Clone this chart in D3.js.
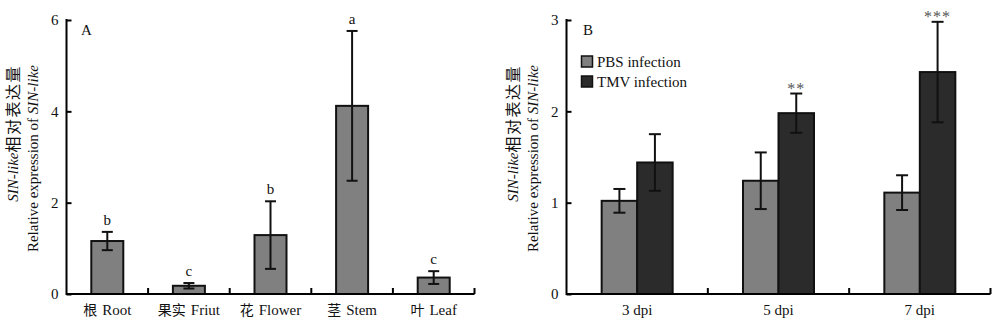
<!DOCTYPE html>
<html>
<head>
<meta charset="utf-8">
<script src="https://cdn.jsdelivr.net/npm/d3@7"></script>
<style>
  html, body { margin: 0; padding: 0; background: #fff; }
  svg { display: block; }
  text { font-family: "Liberation Serif", "Times New Roman", "Noto Sans CJK SC", serif; fill: #111; }
</style>
</head>
<body>
<svg id="chart" width="1000" height="326"></svg>
<script>
// ---- Panel A data ----
const tissueCategories = ["根 Root", "果实 Friut", "花 Flower", "茎 Stem", "叶 Leaf"];
const tissueValues = [1.16, 0.18, 1.29, 4.12, 0.36];
const tissueErrors = [0.20, 0.06, 0.74, 1.64, 0.14];
const tissueLetters = ["b", "c", "b", "a", "c"];
const tissueTicks = [0, 2, 4, 6];

// ---- Panel B data ----
const dpiCategories = ["3 dpi", "5 dpi", "7 dpi"];
const seriesNames = ["PBS infection", "TMV infection"];
const pbsValues = [1.02, 1.24, 1.11];
const pbsErrors = [0.13, 0.31, 0.19];
const tmvValues = [1.44, 1.98, 2.43];
const tmvErrors = [0.31, 0.215, 0.55];
const tmvStars = ["", "**", "***"];
const dpiTicks = [0, 1, 2, 3];

const svg = d3.select("#chart");
const seriesColors = d3.scaleOrdinal().domain(seriesNames).range(["#808080", "#2b2b2b"]);
const CJK = "'Noto Sans CJK SC', sans-serif";

function mixedText(sel, label) {
  const m = label.match(/^(\S+)\s(.+)$/);
  sel.append("tspan").style("font-family", CJK).style("font-size", "14px").text(m[1]);
  sel.append("tspan").attr("dx", 5).text(m[2]);
}

function yLabel(g, x1, x2, yEnd) {
  const t1 = g.append("text")
    .attr("transform", `translate(${x1},${yEnd}) rotate(-90)`)
    .attr("text-anchor", "end").attr("dominant-baseline", "middle")
    .style("font-size", "15px");
  t1.append("tspan").style("font-style", "italic").text("SIN-like");
  t1.append("tspan").style("font-family", CJK).style("font-size", "16px")
    .style("letter-spacing", "1.5px").text("相对表达量");
  const t2 = g.append("text")
    .attr("transform", `translate(${x2},${yEnd}) rotate(-90)`)
    .attr("text-anchor", "end").attr("dominant-baseline", "middle")
    .style("font-size", "15px");
  t2.append("tspan").text("Relative expression of ");
  t2.append("tspan").style("font-style", "italic").text("SIN-like");
}

function drawAxes(g, y, ticks, x0, x1, boundaries) {
  const ya = g.append("g").attr("transform", `translate(${x0},0)`)
    .call(d3.axisRight(y).tickValues(ticks).tickSize(5).tickFormat(d3.format("d")));
  ya.select(".domain").remove();
  ya.selectAll(".tick line").attr("stroke", "#000").attr("stroke-width", 2);
  ya.selectAll(".tick text").attr("x", -8).attr("text-anchor", "end")
    .style("font-size", "15px").style("font-family", "'Liberation Serif', serif").attr("fill", "#111");
  g.append("line").attr("x1", x0).attr("x2", x0).attr("y1", y(ticks[ticks.length - 1]) - 1).attr("y2", y(0) + 1)
    .attr("stroke", "#000").attr("stroke-width", 2);
  g.append("line").attr("x1", x0).attr("x2", x1).attr("y1", y(0)).attr("y2", y(0))
    .attr("stroke", "#000").attr("stroke-width", 2);
  g.selectAll(".btick").data(boundaries).enter().append("line")
    .attr("x1", d => d).attr("x2", d => d).attr("y1", y(0)).attr("y2", y(0) - 6)
    .attr("stroke", "#000").attr("stroke-width", 2);
}

function errorBar(g, cx, y, v, e, cap) {
  g.append("line").attr("x1", cx).attr("x2", cx).attr("y1", y(v + e)).attr("y2", y(v - e))
    .attr("stroke", "#111").attr("stroke-width", 2);
  [v + e, v - e].forEach(t => g.append("line").attr("x1", cx - cap).attr("x2", cx + cap)
    .attr("y1", y(t)).attr("y2", y(t)).attr("stroke", "#111").attr("stroke-width", 2));
}

// ---- Panel A ----
{
  const g = svg.append("g");
  const y = d3.scaleLinear().domain([0, 6]).range([294, 20]);
  const x = d3.scaleBand().domain(tissueCategories).range([66.5, 474.5]).padding(0);
  const bw = 32;
  const boundaries = tissueCategories.slice(1).map(c => x(c)).concat([x.range()[1]]);
  tissueCategories.forEach((c, i) => {
    const cx = x(c) + x.bandwidth() / 2;
    g.append("rect").attr("x", cx - bw / 2).attr("width", bw)
      .attr("y", y(tissueValues[i])).attr("height", y(0) - y(tissueValues[i]))
      .attr("fill", "#808080").attr("stroke", "#111").attr("stroke-width", 2);
    errorBar(g, cx, y, tissueValues[i], tissueErrors[i], 5.5);
    g.append("text").attr("x", cx).attr("y", y(tissueValues[i] + tissueErrors[i]) - 7)
      .attr("text-anchor", "middle").style("font-size", "15px").text(tissueLetters[i]);
    g.append("text").attr("x", cx).attr("y", 315)
      .attr("text-anchor", "middle").style("font-size", "15px").call(mixedText, c);
  });
  drawAxes(g, y, tissueTicks, 66.5, 474.5, boundaries);
  g.append("text").attr("x", 81).attr("y", 35).style("font-size", "15px").text("A");
  yLabel(g, 15, 35, 65);
}

// ---- Panel B ----
{
  const g = svg.append("g");
  const y = d3.scaleLinear().domain([0, 3]).range([294, 20]);
  const x = d3.scaleBand().domain(dpiCategories).range([566.5, 990.5]).padding(0);
  const xs = d3.scaleBand().domain(seriesNames).range([0, 71]).padding(0);
  const boundaries = dpiCategories.slice(1).map(c => x(c)).concat([x.range()[1]]);
  dpiCategories.forEach((c, i) => {
    const left = x(c) + x.bandwidth() / 2 - 35.5;
    const vals = [pbsValues[i], tmvValues[i]];
    const errs = [pbsErrors[i], tmvErrors[i]];
    seriesNames.forEach((s, j) => {
      const bx = left + xs(s);
      g.append("rect").attr("x", bx).attr("width", xs.bandwidth())
        .attr("y", y(vals[j])).attr("height", y(0) - y(vals[j]))
        .attr("fill", seriesColors(s)).attr("stroke", "#111").attr("stroke-width", 2);
    });
    seriesNames.forEach((s, j) => {
      const cx = left + xs(s) + xs.bandwidth() / 2;
      errorBar(g, cx, y, vals[j], errs[j], 6);
    });
    if (tmvStars[i]) {
      const cx = left + xs(seriesNames[1]) + xs.bandwidth() / 2;
      g.append("text").attr("x", cx).attr("y", y(tmvValues[i] + tmvErrors[i]))
        .attr("text-anchor", "middle").style("font-size", "16px")
        .style("letter-spacing", "1px").style("fill", "#555").text(tmvStars[i]);
    }
    g.append("text").attr("x", x(c) + x.bandwidth() / 2).attr("y", 315)
      .attr("text-anchor", "middle").style("font-size", "15px").text(c);
  });
  drawAxes(g, y, dpiTicks, 566.5, 990.5, boundaries);
  g.append("text").attr("x", 583).attr("y", 35).style("font-size", "15px").text("B");
  // legend
  seriesNames.forEach((s, j) => {
    const ly = 56 + j * 20;
    g.append("rect").attr("x", 581.5).attr("y", ly).attr("width", 11).attr("height", 11)
      .attr("fill", seriesColors(s)).attr("stroke", "#111").attr("stroke-width", 1.5);
    g.append("text").attr("x", 597).attr("y", ly + 11).style("font-size", "15px").text(s);
  });
  yLabel(g, 515, 535, 65);
}
</script>
</body>
</html>
